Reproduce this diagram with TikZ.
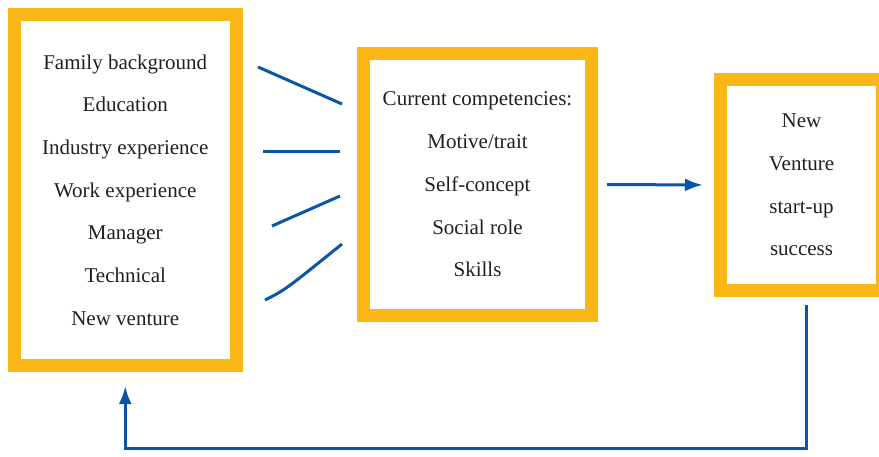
\documentclass[tikz,border=0pt]{standalone}
\usepackage{fontspec}
\setmainfont{Liberation Serif}
\usetikzlibrary{arrows.meta}
\definecolor{boxorange}{HTML}{FBB617}
\definecolor{linkblue}{HTML}{0A56A6}
\definecolor{inkgray}{HTML}{231F20}
\tikzset{
  framebox/.style={draw=boxorange,line width=13pt,fill=white,align=center,
    text=inkgray,font=\fontsize{21}{42.7}\selectfont,inner sep=0pt},
  link/.style={draw=linkblue,line width=3pt},
  linkarrow/.style={link,-{Latex[length=18pt,width=13pt]}}
}
\begin{document}
\begin{tikzpicture}[x=1pt,y=1pt]
	\useasboundingbox (0,0) rectangle (879,456);
	\clip (0,0) rectangle (879,456);
	\node[framebox,minimum width=222pt,minimum height=351pt] (bg) at (125.25,266)
		{Family background\\Education\\Industry experience\\Work experience\\Manager\\Technical\\New venture};
	\node[framebox,minimum width=228pt,minimum height=262pt] (comp) at (477.5,271.5)
		{Current competencies:\\Motive/trait\\Self-concept\\Social role\\Skills};
	\node[framebox,minimum width=162pt,minimum height=211pt] (succ) at (801.5,271)
		{New\\Venture\\start-up\\success};
	% lines between first and second box
	\draw[link] (258,389) -- (342,352);
	\draw[link] (263,304) -- (340,304);
	\draw[link] (272,230) -- (340,260);
	\draw[link] (265,156) .. controls (285,166) .. (342,212);
	% arrows
	\draw[linkarrow,shorten <=9pt,shorten >=11pt] (comp.east) -- (succ.west);
	\draw[linkarrow,shorten <=8pt,shorten >=14pt] ([xshift=4.5pt]succ.south) -- ++(0,-151) -| (bg.south);
\end{tikzpicture}
\end{document}
